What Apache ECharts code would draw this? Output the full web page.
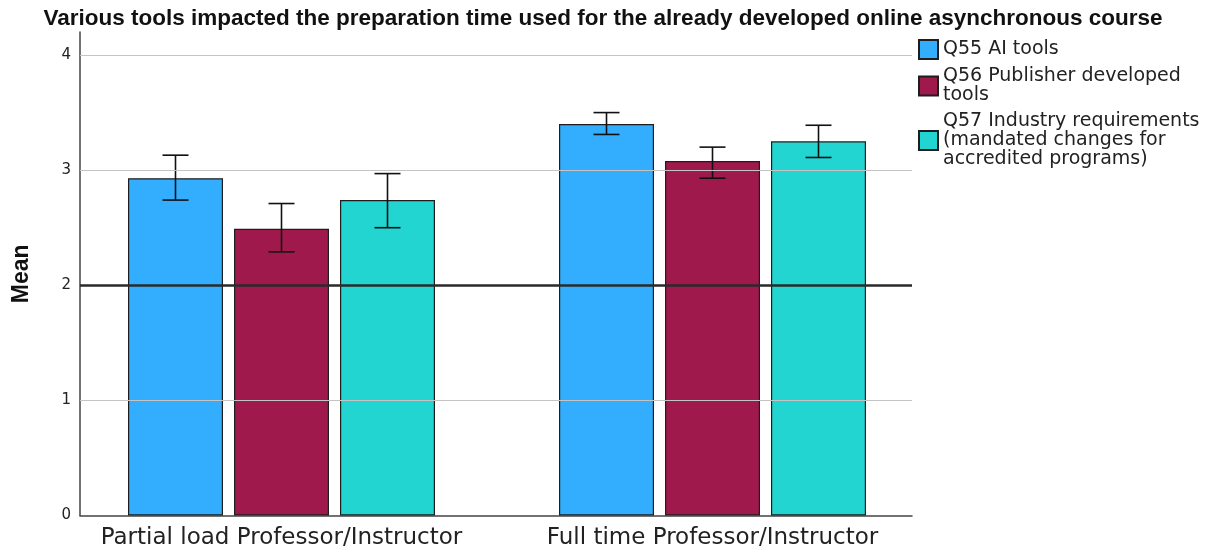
<!DOCTYPE html>
<html>
<head>
<meta charset="utf-8">
<script src="https://cdn.jsdelivr.net/npm/echarts@6/dist/echarts.min.js"></script>
<style>
html,body{margin:0;padding:0;background:#fff;}
#chart{width:1206px;height:555px;}
</style>
</head>
<body>
<div id="chart"></div>
<script>
// ---- data ----
const titleText = 'Various tools impacted the preparation time used for the already developed online asynchronous course';
const categories = ['Partial load Professor/Instructor', 'Full time Professor/Instructor'];
const seriesNames = ['Q55 AI tools', 'Q56 Publisher developed tools', 'Q57 Industry requirements (mandated changes for accredited programs)'];
const legendLabels = ['Q55 AI tools', 'Q56 Publisher developed\ntools', 'Q57 Industry requirements\n(mandated changes for\naccredited programs)'];
const aiMean = [2.93, 3.40];
const aiLow = [2.74, 3.31];
const aiHigh = [3.13, 3.50];
const pubMean = [2.49, 3.08];
const pubLow = [2.29, 2.93];
const pubHigh = [2.71, 3.20];
const indMean = [2.74, 3.25];
const indLow = [2.50, 3.11];
const indHigh = [2.97, 3.39];
const yTicks = [1, 2, 3, 4];
const refValue = 2;
const yMin = 0, yMax = 4.2;

// ---- styles ----
const colors = ['#33aeff', '#a0194c', '#22d5d1'];
const BAR_W = 95;
const BAR_SPACE = 11;
const CAP_W = 26;

const means = [aiMean, pubMean, indMean];
const lows = [aiLow, pubLow, indLow];
const highs = [aiHigh, pubHigh, indHigh];

const errData = [];
for (let s = 0; s < 3; s++) {
  for (let c = 0; c < categories.length; c++) {
    errData.push([c, s, lows[s][c], highs[s][c]]);
  }
}

const chart = echarts.init(document.getElementById('chart'), null, {renderer: 'canvas'});

const barSeries = seriesNames.map((name, s) => ({
  name: name,
  type: 'bar',
  xAxisIndex: 1,
  yAxisIndex: 1,
  data: means[s],
  barWidth: BAR_W,
  barGap: (BAR_SPACE / BAR_W * 100) + '%',
  itemStyle: {color: colors[s], borderColor: '#1e1e1e', borderWidth: 1.2},
  emphasis: {disabled: true},
  z: 2
}));

const option = {
  animation: false,
  backgroundColor: '#ffffff',
  textStyle: {fontFamily: 'DejaVu Sans'},
  title: {
    text: titleText,
    left: 'center',
    top: 2,
    textStyle: {fontFamily: 'Liberation Sans', fontWeight: 'bold', fontSize: 22.5, color: '#111'}
  },
  legend: {
    orient: 'vertical',
    left: 913,
    top: 34,
    itemWidth: 19,
    itemHeight: 19,
    itemGap: 7,
    icon: 'rect',
    selectedMode: false,
    data: seriesNames,
    formatter: function (name) { return legendLabels[seriesNames.indexOf(name)]; },
    textStyle: {fontFamily: 'DejaVu Sans', fontSize: 19, lineHeight: 19, color: '#222'}
  },
  grid: [
    {left: 80, top: 32, right: 294, bottom: 39.5},
    {left: 66, top: 32, width: 862, bottom: 39.5}
  ],
  xAxis: [
    {
      gridIndex: 0, type: 'category', data: categories,
      axisLabel: {show: false}, axisTick: {show: false},
      axisLine: {show: true, lineStyle: {color: '#444', width: 1.5}},
      splitLine: {show: false}
    },
    {
      gridIndex: 1, type: 'category', data: categories,
      axisLine: {show: false}, axisTick: {show: false},
      axisLabel: {interval: 0, fontFamily: 'DejaVu Sans', fontSize: 23, color: '#222', margin: 11},
      splitLine: {show: false}
    }
  ],
  yAxis: [
    {
      gridIndex: 0, type: 'value', min: yMin, max: yMax, interval: 1,
      name: 'Mean', nameLocation: 'middle', nameGap: 47, nameRotate: 90,
      nameTextStyle: {fontFamily: 'Liberation Sans', fontWeight: 'bold', fontSize: 23, color: '#111'},
      axisLine: {show: true, lineStyle: {color: '#444', width: 1.5}},
      axisTick: {show: false},
      axisLabel: {
        fontFamily: 'DejaVu Sans', fontSize: 15, color: '#222', margin: 9,
        formatter: function (v) { return Number.isInteger(v) ? String(v) : ''; }
      },
      splitLine: {show: false}
    },
    {
      gridIndex: 1, type: 'value', min: yMin, max: yMax, show: false,
      splitLine: {show: false}
    }
  ],
  series: [
    {
      name: 'gridlines', type: 'line', xAxisIndex: 0, yAxisIndex: 0, data: [],
      silent: true, z: 1,
      markLine: {
        silent: true, symbol: ['none', 'none'], label: {show: false},
        lineStyle: {color: '#c4c4c4', width: 1, type: 'solid'},
        emphasis: {disabled: true},
        data: yTicks.map(v => ({yAxis: v}))
      }
    },
    ...barSeries,
    {
      name: 'errors', type: 'custom', xAxisIndex: 1, yAxisIndex: 1,
      data: errData, z: 4, silent: true,
      renderItem: function (params, api) {
        const c = api.value(0), s = api.value(1);
        const top = api.coord([c, api.value(3)]);
        const bot = api.coord([c, api.value(2)]);
        const x = top[0] + (s - 1) * (BAR_W + BAR_SPACE);
        const st = {stroke: '#111', lineWidth: 1.6};
        return {
          type: 'group',
          children: [
            {type: 'line', shape: {x1: x, y1: top[1], x2: x, y2: bot[1]}, style: st},
            {type: 'line', shape: {x1: x - CAP_W / 2, y1: top[1], x2: x + CAP_W / 2, y2: top[1]}, style: st},
            {type: 'line', shape: {x1: x - CAP_W / 2, y1: bot[1], x2: x + CAP_W / 2, y2: bot[1]}, style: st}
          ]
        };
      }
    },
    {
      name: 'reference', type: 'line', xAxisIndex: 0, yAxisIndex: 0, data: [],
      silent: true, z: 6,
      markLine: {
        silent: true, symbol: ['none', 'none'], label: {show: false},
        lineStyle: {color: '#2a2a2a', width: 2.6, type: 'solid'},
        emphasis: {disabled: true},
        data: [{yAxis: refValue}]
      }
    }
  ]
};

chart.setOption(option);
</script>
</body>
</html>
